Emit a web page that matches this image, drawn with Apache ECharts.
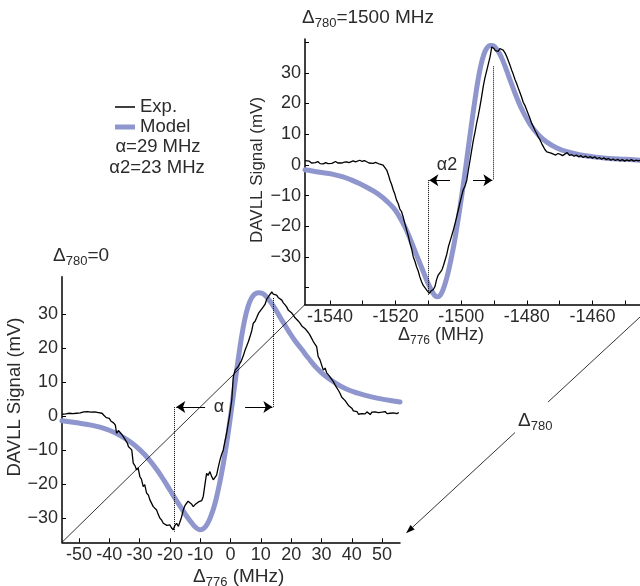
<!DOCTYPE html>
<html><head><meta charset="utf-8">
<script src="https://cdn.jsdelivr.net/npm/echarts@6/dist/echarts.min.js"></script>
<style>html,body{margin:0;padding:0;background:#fff}#c{width:640px;height:586px}</style>
</head><body><div id="c"></div>
<script>
// ---------- DATA ----------
// Top-right panel (Δ780 = 1500 MHz): experimental trace [Δ776 MHz, mV]
const topExp = [[-1547.6,1.4],[-1547,0.8],[-1546.3,1.2],[-1545.6,0.6],[-1545.1,1.0],[-1544.4,0.7],[-1543.7,1.1],[-1543,0.4],[-1542.4,0.6],[-1542,0.3],[-1541.3,0.7],[-1540.6,0.4],[-1540,0.9],[-1539.4,0.5],[-1539,0.7],[-1538.3,1.1],[-1537.6,0.6],[-1537,0.2],[-1536.3,0.6],[-1535.6,0.9],[-1534.9,1.0],[-1534.2,0.7],[-1533.6,1.2],[-1532.9,1.3],[-1532.2,1.0],[-1531.6,1.5],[-1530.9,1.5],[-1530.2,1.1],[-1529.5,1.4],[-1528.8,1.0],[-1528.1,0.6],[-1527.5,0.9],[-1526.8,0.5],[-1526.1,0.8],[-1525.5,0.3],[-1524.8,0.2],[-1524.2,0.4],[-1523.8,-0.1],[-1523.2,-0.6],[-1522.7,-1.7],[-1522.2,-3.2],[-1521.7,-5.0],[-1521.2,-6.4],[-1520.7,-8.2],[-1520.2,-9.6],[-1519.7,-11.5],[-1519.2,-12.6],[-1518.7,-14.4],[-1518.2,-15.2],[-1517.7,-16.9],[-1517.2,-19.0],[-1516.6,-21.3],[-1516.1,-23.2],[-1515.6,-25.6],[-1515.1,-27.4],[-1514.6,-30.0],[-1514.1,-31.4],[-1513.6,-33.2],[-1513.1,-34.6],[-1512.6,-36.5],[-1512.1,-38.0],[-1511.6,-39.2],[-1511.1,-39.0],[-1510.5,-40.8],[-1510.1,-41.2],[-1509.7,-41.9],[-1509.3,-41.2],[-1509,-41.4],[-1508.5,-40.6],[-1508,-39.7],[-1507.5,-37.4],[-1507,-35.9],[-1506.5,-35.6],[-1505.9,-34.3],[-1505.4,-32.8],[-1504.9,-31.0],[-1504.4,-29.2],[-1503.9,-26.7],[-1503.2,-24.2],[-1502.4,-21.3],[-1501.7,-18.4],[-1500.9,-14.8],[-1500.2,-11.6],[-1499.4,-8.2],[-1498.8,-6.8],[-1498.3,-5.0],[-1497.8,-1.6],[-1497.3,1.5],[-1496.8,4.8],[-1496.3,8.0],[-1495.8,10.6],[-1495.3,13.5],[-1494.8,16.0],[-1494.3,18.9],[-1493.8,22.0],[-1493.3,25.4],[-1492.8,28.2],[-1492.2,30.8],[-1491.7,33.0],[-1491.2,35.2],[-1490.9,37.0],[-1490.7,38.4],[-1490.3,38.0],[-1490,37.9],[-1489.6,37.2],[-1489.2,37.4],[-1488.7,37.0],[-1488.2,37.9],[-1487.7,37.6],[-1487.2,37.4],[-1486.6,36.4],[-1486.1,35.2],[-1485.6,33.8],[-1485.1,32.4],[-1484.6,30.8],[-1484.1,29.4],[-1483.6,27.8],[-1483.1,26.5],[-1482.6,25.0],[-1482.1,23.6],[-1481.6,22.1],[-1481.1,20.4],[-1480.5,19.2],[-1480,17.8],[-1479.5,16.4],[-1479,15.0],[-1478.5,13.5],[-1478,12.4],[-1477.5,11.2],[-1477,10.2],[-1476.5,9.0],[-1476,8.2],[-1475.5,7.0],[-1475,6.0],[-1474.5,5.0],[-1473.9,4.2],[-1473.3,3.6],[-1472.6,3.8],[-1471.9,3.5],[-1471.2,3.2],[-1470.5,3.7],[-1469.8,3.4],[-1469.1,3.0],[-1468.4,3.5],[-1467.7,4.0],[-1467,3.1],[-1466.3,3.3],[-1465.6,2.8],[-1464.9,3.2],[-1464.2,2.6],[-1463.5,3.0],[-1462.8,2.4],[-1462.1,2.9],[-1461.4,2.3],[-1460.7,2.7],[-1460,2.2],[-1459.3,2.6],[-1458.6,2.0],[-1457.9,2.4],[-1457.2,1.8],[-1456.5,2.3],[-1455.8,1.7],[-1455.1,2.1],[-1454.4,1.5],[-1453.7,1.9],[-1453,1.4],[-1452.3,1.8],[-1451.6,1.3],[-1450.9,1.7],[-1450.2,1.2],[-1449.5,1.6],[-1448.8,1.3],[-1448.1,1.7],[-1447.4,1.2],[-1446.7,1.5],[-1446,1.3],[-1445.5,1.5]];
// Top-right panel: model curve
const topModel = [[-1547.6,-1.6],[-1545,-2.1],[-1542,-2.6],[-1539,-3.1],[-1536,-3.9],[-1533.5,-4.9],[-1531,-6.1],[-1528.8,-7.3],[-1526.8,-8.5],[-1524.7,-10.0],[-1522.7,-11.8],[-1520.5,-14.2],[-1518.9,-16.8],[-1517.5,-19.5],[-1516.1,-22.7],[-1514.6,-26.7],[-1513.3,-30.2],[-1512,-33.6],[-1511,-36.3],[-1510,-38.8],[-1509,-41.0],[-1508,-42.6],[-1507.1,-43.0],[-1506.1,-42.0],[-1505.1,-39.4],[-1504.1,-35.6],[-1503.1,-30.8],[-1502.1,-25.4],[-1501.2,-19.6],[-1500.3,-13.4],[-1499.4,-6.8],[-1498.5,0.2],[-1497.6,7.4],[-1496.7,14.4],[-1495.8,21.2],[-1494.9,27.4],[-1494,32.4],[-1493.1,35.9],[-1492.2,38.0],[-1491.3,38.9],[-1490.4,38.9],[-1489.5,38.1],[-1488.5,36.6],[-1487.4,34.2],[-1486.1,30.6],[-1484.6,26.2],[-1483.1,22.0],[-1481.2,17.4],[-1479,13.2],[-1476.5,9.8],[-1473.9,7.4],[-1471,5.6],[-1467.8,4.3],[-1464,3.3],[-1459.7,2.6],[-1455,2.1],[-1450,1.8],[-1445.5,1.5]];
// Bottom-left panel (Δ780 = 0): experimental trace
const botExp = [[-55.6,0.6],[-55,1.1],[-54.4,0.7],[-53.8,1.2],[-53.2,0.9],[-52.6,1.3],[-52,0.8],[-51.4,1.1],[-50.8,0.9],[-50.2,1.4],[-49.6,1.0],[-49,0.8],[-48.4,1.3],[-47.8,1.1],[-47.2,1.4],[-46.6,0.9],[-46,1.2],[-45.4,1.0],[-44.8,1.3],[-44.2,0.8],[-43.6,1.1],[-43,0.7],[-42.4,0.9],[-41.8,0.3],[-41.3,0.5],[-41,-0.4],[-40.5,-0.9],[-40,-0.6],[-39.5,-1.4],[-39,-1.2],[-38.5,-2.0],[-38,-2.6],[-37.6,-5.0],[-37,-4.2],[-36.5,-4.0],[-36,-5.2],[-35.5,-5.0],[-35,-6.5],[-34.5,-6.2],[-34,-8.0],[-33.7,-8.9],[-33.2,-8.4],[-32.6,-9.9],[-32.1,-13.8],[-31.5,-14.6],[-31,-15.8],[-30.5,-15.2],[-29.9,-17.8],[-29.4,-18.5],[-28.8,-20.7],[-28.3,-20.1],[-27.7,-22.6],[-27.1,-23.2],[-26.6,-24.6],[-26,-24.9],[-25.5,-26.6],[-25,-26.3],[-24.4,-27.6],[-23.9,-28.8],[-23.3,-30.0],[-22.7,-30.6],[-22.2,-31.5],[-21.6,-31.2],[-21,-32.1],[-20.5,-31.6],[-20,-32.0],[-19.5,-32.8],[-18.9,-33.4],[-18.4,-32.2],[-17.8,-31.5],[-17.2,-32.4],[-16.7,-32.0],[-16.2,-29.8],[-15.6,-27.6],[-15,-26.2],[-14.5,-25.6],[-14,-25.0],[-13.4,-24.6],[-12.9,-25.8],[-12.3,-26.6],[-11.7,-26.0],[-11.2,-26.4],[-10.6,-25.2],[-10.1,-25.6],[-9.5,-24.8],[-9,-23.6],[-8.5,-20.4],[-7.9,-16.8],[-7.4,-17.4],[-6.8,-16.3],[-6.3,-17.6],[-5.7,-18.7],[-5.2,-18.2],[-4.6,-17.3],[-4,-14.8],[-3.5,-12.9],[-3,-11.4],[-2.4,-9.9],[-1.8,-7.2],[-1.3,-5.0],[-0.7,-1.8],[-0.2,0.9],[0.4,4.8],[0.9,11.6],[1.5,13.6],[2,13.2],[2.5,14.6],[3.1,15.6],[3.6,16.4],[4.2,17.8],[4.8,19.5],[5.3,20.6],[5.9,22.0],[6.4,23.4],[7,25.2],[7.5,27.4],[8.1,28.0],[8.6,29.0],[9.2,30.3],[9.7,30.8],[10.3,31.6],[10.8,32.2],[11.4,33.0],[11.9,34.4],[12.5,35.2],[13,35.6],[13.6,36.6],[14.1,36.0],[14.6,36.3],[15.2,35.7],[15.7,35.0],[16.3,34.8],[16.9,34.2],[17.4,33.4],[18,32.8],[18.5,32.2],[19.1,31.2],[19.6,30.8],[20.2,30.4],[20.7,29.8],[21.3,29.0],[21.8,28.6],[22.4,28.0],[22.9,27.4],[23.5,26.6],[24,26.9],[24.6,25.8],[25.1,25.4],[25.7,24.6],[26.2,23.9],[26.8,23.4],[27.3,22.0],[27.9,21.2],[28.4,20.5],[28.9,17.6],[29.5,16.6],[30,16.9],[30.6,13.6],[31.2,14.2],[31.7,12.8],[32.3,12.2],[32.8,11.6],[33.4,11.9],[33.9,10.2],[34.5,9.2],[35,8.9],[35.6,7.6],[36.1,6.8],[36.7,5.6],[37.2,5.2],[37.8,4.6],[38.3,4.3],[38.9,3.2],[39.4,2.9],[40,2.4],[40.5,1.6],[41.1,1.8],[41.7,1.4],[42.2,0.6],[42.8,1.1],[43.3,0.8],[43.9,1.2],[44.4,0.7],[45,1.3],[45.5,0.9],[46.1,0.5],[46.6,1.2],[47.2,0.8],[47.7,1.3],[48.3,0.9],[48.8,1.1],[49.4,0.7],[49.9,1.2],[50.5,1.0],[51,1.4],[51.6,0.8],[52.1,1.2],[52.7,0.9],[53.2,1.3],[53.8,1.0],[54.3,1.2],[54.9,0.8],[55.5,1.1]];
// Bottom-left panel: model curve
const botModel = [[-55.6,-1.3],[-50,-2.0],[-46,-2.6],[-43.1,-3.2],[-40,-4.1],[-36.5,-5.6],[-33,-7.6],[-29.9,-9.9],[-27,-12.6],[-24.4,-15.6],[-22,-18.8],[-20,-21.7],[-18,-24.6],[-16.1,-27.2],[-14.4,-29.5],[-12.8,-31.4],[-11.4,-32.8],[-10.1,-33.4],[-8.8,-33.0],[-7.6,-31.6],[-6.4,-29.2],[-5.2,-25.9],[-4.1,-21.8],[-3,-17.0],[-1.9,-11.4],[-0.8,-5.0],[0.3,2.0],[1.4,9.4],[2.5,16.6],[3.6,23.2],[4.7,28.6],[5.8,32.4],[6.9,34.8],[8,36.0],[9.2,36.4],[10.4,36.2],[11.6,35.4],[12.9,34.0],[14.3,32.2],[15.8,30.0],[17.4,27.6],[19.2,25.0],[21.2,22.3],[23.4,19.8],[25.8,17.0],[28.4,14.2],[31.2,11.9],[34.4,9.9],[38,8.1],[42,6.8],[46.5,5.7],[51,4.9],[55.9,4.2]];

// Tick values / labels
const topXTicks = [-1540,-1530,-1520,-1510,-1500,-1490,-1480,-1470,-1460,-1450];
const topXLabels = [-1540,-1520,-1500,-1480,-1460];
const topYTicks = [-40,-30,-20,-10,0,10,20,30,40];
const topYLabels = [-30,-20,-10,0,10,20,30];
const botXTicks = [-50,-40,-30,-20,-10,0,10,20,30,40,50];
const botYTicks = [-30,-20,-10,0,10,20,30];

// Axis ranges
const topXRange = [-1547.6, -1445.5];
const topYRange = [-45.5, 41];
const botXRange = [-55.6, 55.9];
const botYRange = [-37.1, 41.1];

// Width annotations (α, α2): dotted-line positions and arrow level
const alphaMarks = [-18.5, 14];
const alphaArrowY = 2.7;
const alphaDotEnds = [-34, 34.8];
const alphaArrows = [[-8.4, -17.9], [4.8, 13.8]];
const alphaLabelPos = [-3.8, 2.7];
const alpha2Marks = [-1510, -1490.2];
const alpha2ArrowY = -5;
const alpha2DotEnds = [-42.4, 32.1];
const alpha2Arrows = [[-1503.4, -1509.7], [-1496.4, -1490.5]];
const alpha2LabelPos = [-1504.3, 0];

// ---------- STYLE ----------
const FONT = '"Liberation Sans", Arial, Helvetica, sans-serif';
const TXT = '#2b2b2b';
const BLUE = '#8f96cd';
const minus = v => v < 0 ? '\u2212' + (-v) : String(v);

function axisCfg(grid, range, ticks, labels, fmt) {
  return {
    type: 'value', gridIndex: grid, min: range[0], max: range[1],
    axisLine: {show: true, onZero: false, lineStyle: {color: '#000', width: 1.5}},
    axisTick: {show: true, inside: true, length: 4, customValues: ticks, lineStyle: {color: '#000', width: 1}},
    axisLabel: {show: true, customValues: labels, margin: 4, fontSize: 18, fontFamily: FONT, color: TXT, formatter: fmt},
    splitLine: {show: false}
  };
}

function markers(marks, dotEnds, arrowY, arrows, labelPos, labelText) {
  return {
    markLine: {
      silent: true, animation: false, symbol: ['none', 'none'], symbolSize: 9,
      label: {show: false},
      lineStyle: {color: '#000', width: 1, type: 'dotted'},
      data: [
        [{coord: [marks[0], arrowY]}, {coord: [marks[0], dotEnds[0]]}],
        [{coord: [marks[1], dotEnds[1]]}, {coord: [marks[1], arrowY]}],
        [{coord: [arrows[0][0], arrowY], lineStyle: {type: 'solid', width: 1}}, {coord: [arrows[0][1], arrowY], symbol: 'arrow'}],
        [{coord: [arrows[1][0], arrowY], lineStyle: {type: 'solid', width: 1}}, {coord: [arrows[1][1], arrowY], symbol: 'arrow'}]
      ]
    },
    markPoint: {
      silent: true, animation: false, symbol: 'circle', symbolSize: 1,
      itemStyle: {color: 'rgba(0,0,0,0)'},
      label: {show: true, position: 'inside', formatter: p => p.name, fontSize: 18, fontFamily: FONT, color: TXT},
      data: [{name: labelText, coord: labelPos}]
    }
  };
}

function rich(fs) {
  return {
    d: {fontSize: fs, fontFamily: FONT, fontWeight: 'normal', color: TXT, lineHeight: 24},
    s: {fontSize: Math.round(fs * 0.68), fontFamily: FONT, fontWeight: 'normal', color: TXT, lineHeight: 14, verticalAlign: 'bottom'},
    n: {fontSize: fs, fontFamily: FONT, fontWeight: 'normal', color: TXT, lineHeight: 24}
  };
}
function richTitle(text, left, top, fs) {
  return {text: text, left: left, top: top, padding: 0, itemGap: 0,
          textStyle: {fontWeight: 'normal', fontSize: fs, fontFamily: FONT, color: TXT, rich: rich(fs)}};
}

const chart = echarts.init(document.getElementById('c'), null, {renderer: 'canvas'});
const option = {
  backgroundColor: '#fff',
  animation: false,
  grid: [
    {left: 305, top: 39, width: 335, height: 265.5, containLabel: false, outerBoundsMode: 'none'},
    {left: 62, top: 276.7, width: 338, height: 265.6, containLabel: false, outerBoundsMode: 'none'}
  ],
  xAxis: [
    axisCfg(0, topXRange, topXTicks, topXLabels, v => String(v)),
    axisCfg(1, botXRange, botXTicks, botXTicks, v => String(v))
  ],
  yAxis: [
    axisCfg(0, topYRange, topYTicks, topYLabels, minus),
    axisCfg(1, botYRange, botYTicks, botYTicks, minus)
  ],
  title: [
    richTitle('{d|Δ}{s|780}{n|=1500 MHz}', 302, 6, 19),
    richTitle('{d|Δ}{s|780}{n|=0}', 53, 244, 19),
    richTitle('{d|Δ}{s|776}{n| (MHz)}', 398, 323, 18),
    richTitle('{d|Δ}{s|776}{n| (MHz)}', 193, 565, 19),
    richTitle('{d|Δ}{s|780}', 518, 409, 19)
  ],
  legend: [
    {data: [{name: 'Exp.', icon: 'rect'}], left: 115, top: 97, padding: 0, itemWidth: 20, itemHeight: 1.5, itemGap: 0,
     selectedMode: false, itemStyle: {color: '#000', borderWidth: 0},
     textStyle: {fontSize: 18.5, fontFamily: FONT, color: TXT, lineHeight: 20}},
    {data: [{name: 'Model', icon: 'rect'}], left: 115, top: 117, padding: 0, itemWidth: 20, itemHeight: 5, itemGap: 0,
     selectedMode: false, itemStyle: {color: BLUE, borderWidth: 0},
     textStyle: {fontSize: 18.5, fontFamily: FONT, color: TXT, lineHeight: 20}}
  ],
  series: [
    {type: 'line', name: 'Model', xAxisIndex: 0, yAxisIndex: 0, data: topModel, showSymbol: false, smooth: 0.4,
     color: BLUE, lineStyle: {color: BLUE, width: 5, cap: 'round', join: 'round'}, z: 2},
    Object.assign({type: 'line', name: 'Exp.', xAxisIndex: 0, yAxisIndex: 0, data: topExp, showSymbol: false,
     color: '#000', lineStyle: {color: '#000', width: 1.3}, z: 3},
     markers(alpha2Marks, alpha2DotEnds, alpha2ArrowY, alpha2Arrows, alpha2LabelPos, 'α2')),
    {type: 'line', name: 'Model', xAxisIndex: 1, yAxisIndex: 1, data: botModel, showSymbol: false, smooth: 0.4,
     color: BLUE, lineStyle: {color: BLUE, width: 5, cap: 'round', join: 'round'}, z: 2},
    Object.assign({type: 'line', name: 'Exp.', xAxisIndex: 1, yAxisIndex: 1, data: botExp, showSymbol: false,
     color: '#000', lineStyle: {color: '#000', width: 1.3}, z: 3},
     markers(alphaMarks, alphaDotEnds, alphaArrowY, alphaArrows, alphaLabelPos, 'α'))
  ]
};
chart.setOption(option);

// ---------- connector lines & free text ----------
const pBotOrigin = chart.convertToPixel({gridIndex: 1}, [botXRange[0], botYRange[0]]);
const pTopOrigin = chart.convertToPixel({gridIndex: 0}, [topXRange[0], topYRange[0]]);
const pBotEnd = chart.convertToPixel({gridIndex: 1}, [botXRange[1], botYRange[0]]);
const pTopEnd = chart.convertToPixel({gridIndex: 0}, [topXRange[1], topYRange[0]]);
const tip = [pBotEnd[0] + 6, pBotEnd[1] - 9];
const tail = [pTopEnd[0] + 6, pTopEnd[1] + 7];
const dx = tip[0] - tail[0], dy = tip[1] - tail[1];
const len = Math.hypot(dx, dy);
const u = [dx / len, dy / len], nrm = [-u[1], u[0]];
const P = t => [tail[0] + u[0] * t, tail[1] + u[1] * t];
const gap0 = (tail[0] - 548) / -u[0], gap1 = (tail[0] - 515) / -u[0];
const headLen = 9, headW = 3;
const base = P(len - headLen);
const lineStyle = {stroke: '#000', lineWidth: 0.8};
const textStyle = (t, fs) => ({text: t, font: fs + 'px ' + FONT, fill: TXT, align: 'center', verticalAlign: 'middle', textAlign: 'center', textVerticalAlign: 'middle'});

chart.setOption({
  graphic: [
    {type: 'line', z: 100, shape: {x1: pBotOrigin[0], y1: pBotOrigin[1], x2: pTopOrigin[0], y2: pTopOrigin[1]}, style: lineStyle},
    {type: 'line', z: 100, shape: {x1: tail[0], y1: tail[1], x2: P(gap0)[0], y2: P(gap0)[1]}, style: lineStyle},
    {type: 'line', z: 100, shape: {x1: P(gap1)[0], y1: P(gap1)[1], x2: base[0], y2: base[1]}, style: lineStyle},
    {type: 'polygon', z: 100, shape: {points: [tip, [base[0] + nrm[0] * headW, base[1] + nrm[1] * headW], [base[0] - nrm[0] * headW, base[1] - nrm[1] * headW]]}, style: {fill: '#000'}},
    {type: 'text', z: 100, x: 158, y: 147, style: textStyle('α=29 MHz', 18.5)},
    {type: 'text', z: 100, x: 157, y: 168, style: textStyle('α2=23 MHz', 18.5)},
    {type: 'text', z: 100, x: 257, y: 170, rotation: Math.PI / 2, style: textStyle('DAVLL Signal (mV)', 17)},
    {type: 'text', z: 100, x: 15, y: 397, rotation: Math.PI / 2, style: textStyle('DAVLL Signal (mV)', 18.5)}
  ]
});
</script>
</body></html>
